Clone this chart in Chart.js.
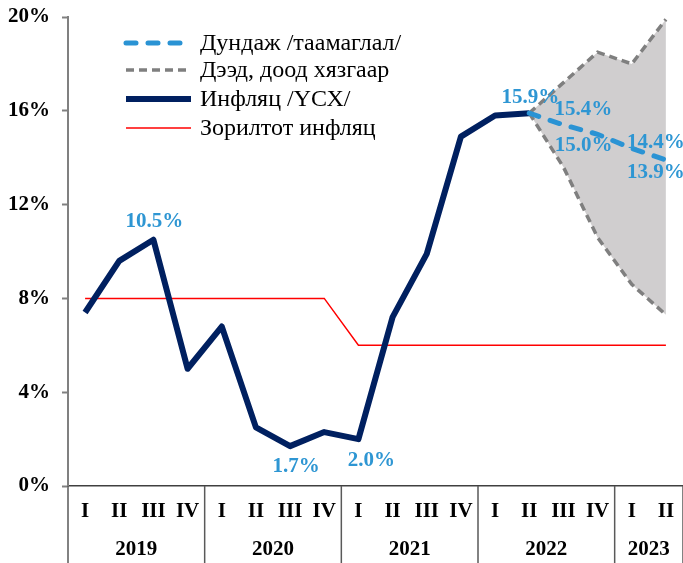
<!DOCTYPE html>
<html>
<head>
<meta charset="utf-8">
<script src="https://cdn.jsdelivr.net/npm/chart.js@4/dist/chart.umd.min.js"></script>
<style>
  html, body { margin: 0; padding: 0; background: #fff; }
  #wrap { width: 683px; height: 563px; position: relative; }
</style>
</head>
<body>
<div id="wrap"><canvas id="inflChart"></canvas></div>
<script>
// Өгөгдөл
var quarters = ['I', 'II', 'III', 'IV', 'I', 'II', 'III', 'IV', 'I', 'II', 'III', 'IV', 'I', 'II', 'III', 'IV', 'I', 'II'];
var years = ['2019', '2020', '2021', '2022', '2023'];
var yearSpans = [4, 4, 4, 4, 2];
var inflation = [7.4, 9.6, 10.5, 5.0, 6.8, 2.5, 1.7, 2.3, 2.0, 7.2, 9.9, 14.9, 15.8, 15.9, null, null, null, null];
var forecast = [null, null, null, null, null, null, null, null, null, null, null, null, null, 15.9, 15.4, 15.0, 14.4, 13.9];
var upperBound = [null, null, null, null, null, null, null, null, null, null, null, null, null, 15.9, 17.2, 18.5, 18.0, 19.9];
var lowerBound = [null, null, null, null, null, null, null, null, null, null, null, null, null, 15.9, 13.6, 10.6, 8.6, 7.3];
var target = [8, 8, 8, 8, 8, 8, 8, 8, 6, 6, 6, 6, 6, 6, 6, 6, 6, 6];
var yTicks = [0, 4, 8, 12, 16, 20];

var serif = "'Liberation Serif', 'Times New Roman', serif";
var labelBlue = '#2E96D3';

// Шошгын байрлал (dataset, index, dx, dy)
var valueLabels = [
    { ds: 2, i: 2, dx: 1, dy: -18 },
    { ds: 2, i: 6, dx: 6, dy: 20 },
    { ds: 2, i: 8, dx: 13, dy: 21 },
    { ds: 3, i: 13, dx: 1, dy: -16 },
    { ds: 3, i: 14, dx: 20, dy: -15 },
    { ds: 3, i: 15, dx: -14, dy: 11 },
    { ds: 3, i: 16, dx: 24, dy: -6 },
    { ds: 3, i: 17, dx: -10, dy: 13 }
];

var extrasPlugin = {
    id: 'extras',
    afterDraw: function (chart) {
        var c = chart.ctx;
        var x = chart.scales.x, y = chart.scales.y;
        var area = chart.chartArea;
        var step = x.getPixelForValue(1) - x.getPixelForValue(0);

        // оны хуваагч шугам ба оны шошго
        c.save();
        c.strokeStyle = '#595959';
        c.lineWidth = 1.5;
        var start = 0;
        var left0 = x.getPixelForValue(0) - step / 2;
        c.beginPath();
        c.moveTo(left0, area.bottom);
        c.lineTo(left0, chart.height);
        c.stroke();
        c.font = 'bold 21px ' + serif;
        c.fillStyle = '#000';
        c.textAlign = 'center';
        c.textBaseline = 'middle';
        for (var k = 0; k < years.length; k++) {
            var l = x.getPixelForValue(start) - step / 2;
            var r = x.getPixelForValue(start + yearSpans[k] - 1) + step / 2;
            c.beginPath();
            c.moveTo(r, area.bottom);
            c.lineTo(r, chart.height);
            c.stroke();
            c.fillText(years[k], (l + r) / 2, 550);
            start += yearSpans[k];
        }
        c.restore();

        // утгын шошго
        c.save();
        c.font = 'bold 21px ' + serif;
        c.fillStyle = labelBlue;
        c.textAlign = 'center';
        c.textBaseline = 'middle';
        valueLabels.forEach(function (lb) {
            var v = chart.data.datasets[lb.ds].data[lb.i];
            var px = x.getPixelForValue(lb.i);
            var py = y.getPixelForValue(v);
            c.fillText(v.toFixed(1) + '%', px + lb.dx, py + lb.dy);
        });
        c.restore();

        // тайлбар (legend)
        var items = [
            { ds: 3, text: 'Дундаж /таамаглал/' },
            { ds: 0, text: 'Дээд, доод хязгаар' },
            { ds: 2, text: 'Инфляц /ҮСХ/' },
            { ds: 4, text: 'Зорилтот инфляц' }
        ];
        var rowsY = [43, 70, 99, 128];
        c.save();
        c.font = '24px ' + serif;
        c.textBaseline = 'middle';
        items.forEach(function (it, n) {
            var d = chart.data.datasets[it.ds];
            c.strokeStyle = d.borderColor;
            c.lineWidth = d.borderWidth;
            c.lineCap = d.borderCapStyle || 'butt';
            c.setLineDash(d.borderDash || []);
            c.beginPath();
            c.moveTo(126, rowsY[n]);
            c.lineTo(191, rowsY[n]);
            c.stroke();
            c.setLineDash([]);
            c.fillStyle = '#000';
            c.fillText(it.text, 200, rowsY[n] + 1);
        });
        c.restore();
    }
};

var ctx = document.getElementById('inflChart').getContext('2d');
var chart = new Chart(ctx, {
    type: 'line',
    data: {
        labels: quarters,
        datasets: [{
            label: 'Дээд хязгаар',
            data: upperBound,
            borderColor: '#7F7F7F',
            borderWidth: 3.5,
            borderDash: [8, 5],
            backgroundColor: '#D0CECF',
            fill: '+1',
            pointRadius: 0,
            order: 5
        }, {
            label: 'Доод хязгаар',
            data: lowerBound,
            borderColor: '#7F7F7F',
            borderWidth: 3.5,
            borderDash: [8, 5],
            fill: false,
            pointRadius: 0,
            order: 4
        }, {
            label: 'Инфляц /ҮСХ/',
            data: inflation,
            borderColor: '#002060',
            borderWidth: 6,
            borderJoinStyle: 'round',
            fill: false,
            pointRadius: 0,
            order: 2
        }, {
            label: 'Дундаж /таамаглал/',
            data: forecast,
            borderColor: '#2A93D4',
            borderWidth: 5,
            borderDash: [10, 12],
            borderCapStyle: 'round',
            fill: false,
            pointRadius: 0,
            order: 1
        }, {
            label: 'Зорилтот инфляц',
            data: target,
            borderColor: '#FF0000',
            borderWidth: 1.5,
            fill: false,
            pointRadius: 0,
            order: 3
        }]
    },
    options: {
        responsive: true,
        maintainAspectRatio: false,
        animation: false,
        spanGaps: false,
        layout: { padding: { top: 17, right: -5, left: 0, bottom: 0 } },
        plugins: {
            legend: { display: false },
            tooltip: { enabled: false }
        },
        scales: {
            x: {
                offset: true,
                afterFit: function (s) { s.height = 77; },
                border: { color: '#404040', width: 1.5 },
                grid: { display: false },
                ticks: {
                    color: '#000',
                    font: { family: serif, size: 21, weight: 'bold' },
                    padding: 5,
                    maxRotation: 0,
                    autoSkip: false
                }
            },
            y: {
                min: 0,
                max: 20,
                afterFit: function (s) { s.width = 68; s.paddingTop = 0; s.paddingBottom = 0; },
                afterBuildTicks: function (s) { s.ticks = yTicks.map(function (v) { return { value: v }; }); },
                border: { color: '#808080', width: 2 },
                grid: { drawOnChartArea: false, tickLength: 6, color: '#808080', tickWidth: 2 },
                ticks: {
                    color: '#000',
                    font: { family: serif, size: 21, weight: 'bold' },
                    padding: 12,
                    callback: function (v) { return v + '%'; }
                }
            }
        }
    },
    plugins: [extrasPlugin]
});
</script>
</body>
</html>
